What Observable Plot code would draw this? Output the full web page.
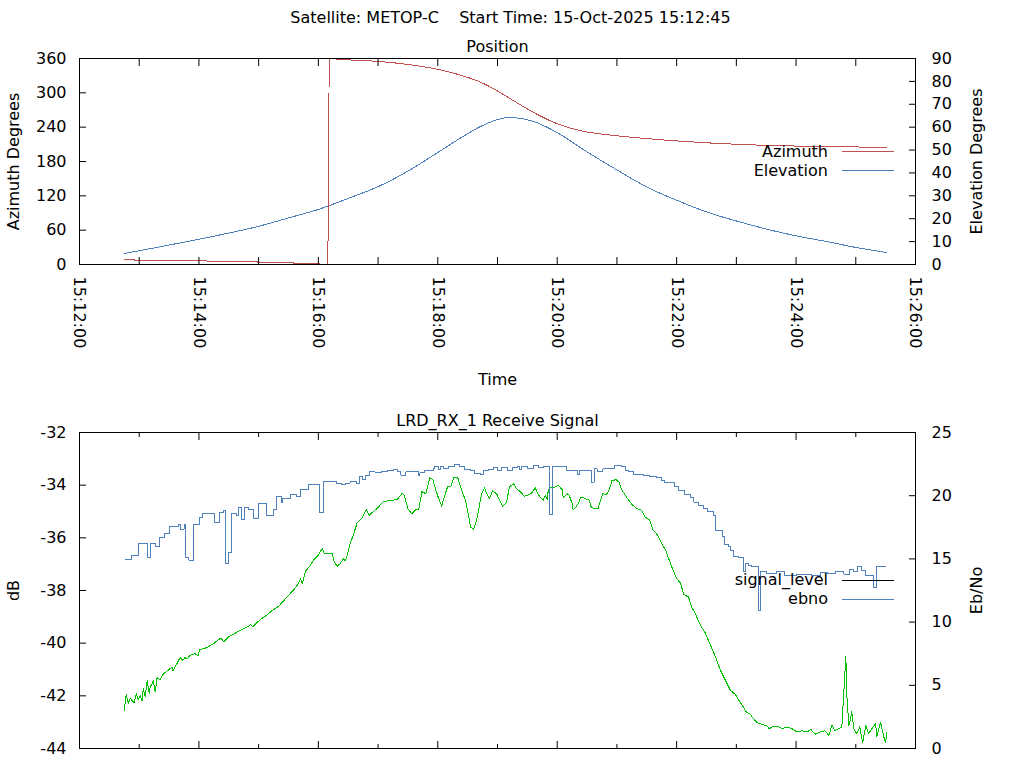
<!DOCTYPE html>
<html><head><meta charset="utf-8">
<script src="https://cdn.jsdelivr.net/npm/d3@7"></script>
<script src="https://cdn.jsdelivr.net/npm/@observablehq/plot@0.6"></script>
<style>
html,body{margin:0;padding:0;background:#fff;overflow:hidden}
#fig{position:relative;width:1024px;height:768px;background:#fff;font-family:"DejaVu Sans",sans-serif;}
#fig svg{position:absolute;left:0}
</style></head><body><div id="fig"></div>
<script>
// ---- text ----
const mainTitle = "Satellite: METOP-C    Start Time: 15-Oct-2025 15:12:45";
const topTitle = "Position";
const bottomTitle = "LRD_RX_1 Receive Signal";
const xLabel = "Time";
const azLabel = "Azimuth Degrees", elLabel = "Elevation Degrees";
const dbLabel = "dB", ebnoLabel = "Eb/No";
const topLegend = ["Azimuth", "Elevation"];
const bottomLegend = ["signal_level", "ebno"];

// ---- ticks ----
const xDomain = ["15:12:00", "15:26:00"];
const xTickLabels = ["15:12:00","15:14:00","15:16:00","15:18:00","15:20:00","15:22:00","15:24:00","15:26:00"];
const xMinorTicks = ["15:13:00","15:15:00","15:17:00","15:19:00","15:21:00","15:23:00","15:25:00"];
const azTicks = [0, 60, 120, 180, 240, 300, 360];
const elTicks = [0, 10, 20, 30, 40, 50, 60, 70, 80, 90];
const dbTicks = [-44, -42, -40, -38, -36, -34, -32];
const ebnoTicks = [0, 5, 10, 15, 20, 25];

// ---- data (time = seconds after 15:12:00) ----
const azTime = [45,55,56,128,130,178,180,214,216,240,242,249.5,250.3,251,261,301,322,342,361,383,403,413,423,433,443,456,480,506,540,600,661,720,777,811];
const azDeg  = [8.7,8.4,6.4,6.2,5.2,5.0,3.6,3.4,1.8,1.6,0.2,0.1,180,359.9,358.5,354.8,351.3,346.6,340.8,330.8,318.6,310,300,289.5,279,266,246,233,225,216,210,207,205.5,204.5];
const elTime = [45,120,155,180,208,241,272,301,332,361,383,403,421,432,436,456,480,506,540,573,600,631,661,691,720,751,777,811];
const elDeg  = [4.8,11.05,14.2,16.7,20.1,24.2,29.2,34.2,41.3,49.2,55.3,60.3,63.4,64.3,64.2,62.5,57.6,50.3,41.3,33.2,28.1,22.8,18.9,15.4,12.5,10.0,7.7,5.2];

const levelTime = [45,46,47,49,51,55,57,59,61,63,64,66,68,70,71,73,74,76,78,81,84,89,93,94,98,101,104,106,108,111,116,119,121,128,135,140,142,145,150,156,163,168,172,174,178,183,188,194,200,205,210,215,220,222,224,227,231,235,240,244,246,254,256,259,262,265,267,269,272,275,279,284,288,291,295,300,305,309,314,319,324,326,330,334,337,341,344,348,352,355,358,361,364,366,370,373,376,380,384,388,391,393,396,399,401,404,407,409,412,415,419,423,425,429,432,436,439,443,447,450,454,458,460,463,466,468,470,471,473,478,481,485,486,490,492,495,496,499,501,504,508,512,514,517,521,523,526,529,532,535,539,542,545,550,555,560,565,568,573,576,581,584,589,592,595,600,604,607,612,615,619,624,629,634,639,644,649,654,659,664,667,670,674,677,681,686,691,693,696,701,706,711,716,721,726,731,735,739,744,749,753,756,759,763,766,768,770,771,773,774,776,778,781,784,787,790,793,796,800,801,805,808,810,811];
const levelDb = [-42.57,-42.2,-41.94,-42.29,-42.1,-42.27,-41.92,-42.15,-42.0,-42.2,-41.72,-42.05,-41.43,-41.9,-41.66,-41.55,-41.41,-41.85,-41.31,-41.38,-41.18,-41.03,-40.9,-41.05,-40.77,-40.55,-40.65,-40.55,-40.6,-40.46,-40.4,-40.48,-40.24,-40.17,-40.01,-39.86,-39.8,-39.95,-39.76,-39.63,-39.48,-39.4,-39.3,-39.38,-39.23,-39.07,-38.94,-38.75,-38.6,-38.4,-38.18,-37.99,-37.73,-37.55,-37.75,-37.26,-37.1,-36.85,-36.66,-36.4,-36.6,-36.6,-36.92,-37.08,-36.98,-36.79,-36.88,-36.66,-36.22,-35.9,-35.43,-35.23,-34.92,-35.14,-35.01,-34.85,-34.63,-34.6,-34.57,-34.55,-34.32,-34.35,-34.89,-35.1,-34.95,-34.9,-34.25,-34.32,-33.72,-33.78,-34.19,-34.51,-34.8,-34.51,-34.04,-34.07,-33.71,-33.71,-34.19,-34.6,-35.18,-35.6,-35.67,-35.33,-34.95,-34.32,-34.09,-34.32,-34.51,-34.22,-34.32,-34.63,-34.8,-34.67,-34.07,-33.94,-34.13,-34.25,-34.42,-34.38,-34.32,-34.09,-34.3,-34.47,-34.57,-34.38,-34.55,-34.19,-34.07,-34.07,-34.0,-34.17,-34.47,-34.32,-34.38,-34.7,-34.95,-34.82,-34.7,-34.45,-34.51,-34.57,-34.82,-34.89,-34.89,-34.63,-34.32,-34.38,-34.19,-33.83,-33.79,-33.88,-34.19,-34.47,-34.73,-34.89,-34.95,-35.2,-35.33,-35.68,-35.9,-36.15,-36.47,-36.79,-37.1,-37.55,-37.73,-38.15,-38.25,-38.62,-38.9,-39.32,-39.63,-40.08,-40.52,-41.03,-41.41,-41.79,-41.95,-42.26,-42.42,-42.61,-42.7,-42.86,-43.02,-43.08,-43.15,-43.25,-43.18,-43.15,-43.25,-43.18,-43.25,-43.37,-43.33,-43.37,-43.28,-43.46,-43.37,-43.33,-43.5,-43.12,-43.31,-43.25,-43.18,-41.85,-40.52,-41.97,-43.12,-43.0,-42.61,-43.25,-43.44,-43.18,-43.79,-43.12,-43.44,-43.25,-43.06,-43.56,-43.0,-43.54,-43.79,-43.4];

const ebnoTime = [46,52,59,68,71,76,80,85,90,99,101,105,107,110,115,121,124,136,141,145,147,150,153,158,160,163,166,170,175,180,188,195,198,203,204,212,218,222,230,241,245,258,263,267,272,278,281,284,287,291,297,303,309,315,320,323,328,341,342,347,356,357,361,363,366,371,377,382,387,393,397,403,406,411,416,420,424,430,435,440,442,444,450,456,461,466,472,475,489,500,502,514,517,520,526,538,545,549,552,557,567,573,580,585,588,598,602,608,614,617,622,627,631,637,639,646,648,652,654,657,662,667,669,672,675,682,684,690,700,708,720,735,745,752,760,768,774,778,782,786,790,798,801,810];
const ebnoValue = [14.95,15.24,16.22,15.1,16.25,16.0,16.7,17.0,17.55,17.75,17.35,17.75,15.1,14.9,17.73,18.27,18.6,17.85,18.65,18.86,14.63,15.5,18.6,18.43,19.04,18.11,19.1,18.9,18.2,19.38,18.43,18.9,19.9,19.43,19.78,20.12,19.96,20.49,20.89,18.7,21.15,20.96,20.85,21.0,21.15,20.96,21.49,21.3,21.6,21.88,21.83,21.88,21.96,22.07,21.88,21.62,21.88,21.62,21.8,22.0,22.15,22.28,22.07,22.28,22.12,22.33,22.46,22.33,22.07,21.96,21.75,21.7,21.96,22.07,22.23,22.02,22.23,22.02,22.2,22.33,22.07,22.28,22.12,22.4,22.2,22.28,18.54,22.28,22.02,21.7,22.02,21.07,22.12,21.9,22.12,22.39,22.28,22.02,21.9,21.7,21.62,21.55,21.44,21.23,21.02,20.7,20.44,20.11,19.85,19.5,19.24,18.98,18.72,18.46,17.22,16.74,16.16,15.95,15.7,15.16,15.11,14.0,14.66,14.5,14.37,10.89,14.0,13.85,13.99,13.7,13.8,13.7,13.95,13.85,14.0,13.8,14.2,14.0,14.37,14.1,13.7,12.75,14.4,14.4];

// ---- colours ----
const RED = "#c0504d", BLUE = "#4f81bd", GREEN = "#00c000";

// ---- helpers ----
const base = Date.UTC(2025, 9, 15, 15, 12, 0);
const sec = s => new Date(base + s * 1000);
const hms = str => { const [h, m, s] = str.split(":").map(Number); return new Date(Date.UTC(2025, 9, 15, h, m, s)); };
const zip = (ts, vs) => ts.map((t, i) => ({t: sec(t), v: vs[i]}));
const az = zip(azTime, azDeg), el = zip(elTime, elDeg);
const level = zip(levelTime, levelDb), ebno = zip(ebnoTime, ebnoValue);
const majorX = xTickLabels.map(hms), minorX = xMinorTicks.map(hms), allX = [...majorX, ...minorX];
const fmtTime = d3.utcFormat("%H:%M:%S");

// right-axis mappings onto the left scales
const el2az = e => e * 4;              // 0..90 -> 0..360
const eb2db = e => -44 + e * 12 / 25;  // 0..25 -> -44..-32
const db2eb = d => Math.round((d + 44) * 25 / 12);

const style = {fontFamily: '"DejaVu Sans", sans-serif', fontSize: "16px", color: "#000", background: "transparent", overflow: "visible"};
const lineOpts = {strokeWidth: 1, shapeRendering: "crispEdges"};
const labelOpts = {rotate: -90, textAnchor: "middle", lineAnchor: "middle"};

const topPlot = Plot.plot({
  width: 1024, height: 384,
  marginTop: 58, marginBottom: 120, marginLeft: 79, marginRight: 109,
  style,
  x: {type: "utc", domain: xDomain.map(hms), label: null},
  y: {domain: [0, 360], label: null},
  marks: [
    Plot.line(el, {x: "t", y: d => el2az(d.v), stroke: BLUE, curve: "monotone-x", ...lineOpts}),
    Plot.line(az, {x: "t", y: "v", stroke: RED, curve: "monotone-x", ...lineOpts}),
    Plot.frame({stroke: "#000"}),
    Plot.axisY({anchor: "left", ticks: azTicks, tickSize: 0, tickPadding: 13, tickFormat: d => String(d), label: null}),
    Plot.axisY({anchor: "left", ticks: azTicks, tickSize: -7, tickFormat: () => "", label: null}),
    Plot.axisY({anchor: "right", ticks: elTicks.map(el2az), tickSize: 0, tickPadding: 16, tickFormat: d => String(d / 4), label: null}),
    Plot.axisY({anchor: "right", ticks: elTicks.map(el2az), tickSize: -7, tickFormat: () => "", label: null}),
    Plot.axisX({anchor: "bottom", ticks: majorX, tickSize: 0, tickPadding: 12, tickRotate: 90, tickFormat: fmtTime, label: null}),
    Plot.axisX({anchor: "bottom", ticks: allX, tickSize: -7, tickFormat: () => "", label: null}),
    Plot.axisX({anchor: "top", ticks: allX, tickSize: -7, tickFormat: () => "", label: null}),
    Plot.text([azLabel], {frameAnchor: "left", dx: -66, ...labelOpts}),
    Plot.text([elLabel], {frameAnchor: "right", dx: 61, ...labelOpts}),
    Plot.text([xLabel], {frameAnchor: "bottom", dy: 115, textAnchor: "middle", lineAnchor: "middle"}),
    Plot.text([topTitle], {frameAnchor: "top", dy: -12, textAnchor: "middle", lineAnchor: "middle"})
  ]
});
topPlot.style.top = "0px";

const bottomPlot = Plot.plot({
  width: 1024, height: 384,
  marginTop: 48, marginBottom: 20, marginLeft: 79, marginRight: 109,
  style,
  x: {type: "utc", domain: xDomain.map(hms), label: null},
  y: {domain: [-44, -32], label: null},
  marks: [
    Plot.line(level, {x: "t", y: "v", stroke: GREEN, ...lineOpts}),
    Plot.line(ebno, {x: "t", y: d => eb2db(d.v), stroke: BLUE, curve: "step-after", ...lineOpts}),
    Plot.frame({stroke: "#000"}),
    Plot.axisY({anchor: "left", ticks: dbTicks, tickSize: 0, tickPadding: 13, tickFormat: d => String(d), label: null}),
    Plot.axisY({anchor: "left", ticks: dbTicks, tickSize: -7, tickFormat: () => "", label: null}),
    Plot.axisY({anchor: "right", ticks: ebnoTicks.map(eb2db), tickSize: 0, tickPadding: 16, tickFormat: d => String(db2eb(d)), label: null}),
    Plot.axisY({anchor: "right", ticks: ebnoTicks.map(eb2db), tickSize: -7, tickFormat: () => "", label: null}),
    Plot.axisX({anchor: "bottom", ticks: majorX, tickSize: -7, tickFormat: () => "", label: null}),
    Plot.axisX({anchor: "bottom", ticks: minorX, tickSize: -4, tickFormat: () => "", label: null}),
    Plot.axisX({anchor: "top", ticks: majorX, tickSize: -7, tickFormat: () => "", label: null}),
    Plot.axisX({anchor: "top", ticks: minorX, tickSize: -4, tickFormat: () => "", label: null}),
    Plot.text([dbLabel], {frameAnchor: "left", dx: -66, ...labelOpts}),
    Plot.text([ebnoLabel], {frameAnchor: "right", dx: 61, ...labelOpts}),
    Plot.text([bottomTitle], {frameAnchor: "top", dy: -11.5, textAnchor: "middle", lineAnchor: "middle"})
  ]
});
bottomPlot.style.top = "384px";

const fig = document.getElementById("fig");
fig.appendChild(bottomPlot);
fig.appendChild(topPlot);

// overlay: figure title and keys
const ov = d3.select(fig).append("svg")
  .attr("width", 1024).attr("height", 768)
  .style("top", "0px").style("pointer-events", "none")
  .attr("font-family", '"DejaVu Sans", sans-serif').attr("font-size", 16);
ov.append("text").attr("x", 510.5).attr("y", 23).attr("text-anchor", "middle")
  .style("white-space", "pre").text(mainTitle);

function key(names, colors, baselines, lineYs) {
  names.forEach((n, i) => {
    ov.append("text").attr("x", 828).attr("y", baselines[i]).attr("text-anchor", "end").text(n);
    ov.append("line").attr("x1", 842).attr("x2", 894).attr("y1", lineYs[i]).attr("y2", lineYs[i])
      .attr("stroke", colors[i]).attr("stroke-width", 1);
  });
}
key(topLegend, [RED, BLUE], [156.5, 175.5], [151.5, 170.5]);
key(bottomLegend, ["#000", BLUE], [585, 604], [580.5, 599.5]);
</script></body></html>
